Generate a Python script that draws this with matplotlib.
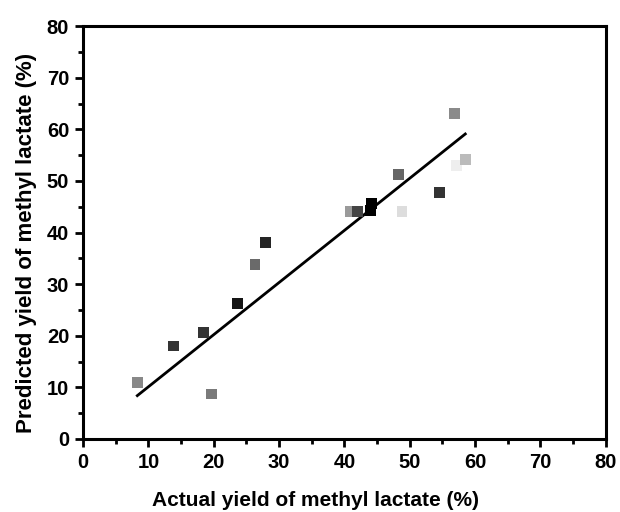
import matplotlib
matplotlib.use("Agg")
import matplotlib.pyplot as plt
from matplotlib.ticker import MultipleLocator

# data
actual = [8.3, 13.8, 18.4, 19.7, 23.6, 26.3, 27.9, 40.9, 42.0, 44.0, 44.1,
          48.3, 48.8, 54.5, 56.8, 57.2, 58.5]
predicted = [11.0, 18.0, 20.6, 8.7, 26.3, 33.8, 38.0, 44.1, 44.1, 44.2, 45.7,
             51.3, 44.1, 47.8, 63.1, 53.0, 54.1]
shades = ["#888888", "#333333", "#333333", "#7a7a7a", "#151515", "#6a6a6a",
          "#252525", "#9a9a9a", "#444444", "#000000", "#000000",
          "#666666", "#dddddd", "#333333", "#8a8a8a", "#eeeeee", "#bbbbbb"]
fit_x = [8.3, 58.5]
fit_y = [8.4, 59.1]

plt.rcParams["font.family"] = ["Liberation Sans", "DejaVu Sans"]
plt.rcParams["font.weight"] = "bold"

fig = plt.figure(figsize=(6.2, 5.12), dpi=100)
ax = fig.add_axes([0.134, 0.1426, 0.843, 0.8064])

ax.scatter(actual, predicted, marker="s", s=60, c=shades, linewidths=0, zorder=3)
ax.plot(fit_x, fit_y, color="black", linewidth=2.0, zorder=2)

ax.set_xlim(0, 80)
ax.set_ylim(0, 80)
ax.xaxis.set_major_locator(MultipleLocator(10))
ax.yaxis.set_major_locator(MultipleLocator(10))
ax.xaxis.set_minor_locator(MultipleLocator(5))
ax.yaxis.set_minor_locator(MultipleLocator(5))
ax.tick_params(which="major", direction="out", length=6, width=2, labelsize=14.5, pad=4)
ax.tick_params(which="minor", direction="out", length=3.5, width=2)
for sp in ax.spines.values():
    sp.set_linewidth(2.2)

ax.set_xlabel("Actual yield of methyl lactate (%)", fontsize=15, fontweight="bold", labelpad=14)
ax.set_ylabel("Predicted yield of methyl lactate (%)", fontsize=16, fontweight="bold", labelpad=7)
# labels sit a little off-centre in the original
ax.xaxis.label.set_x(0.444)
ax.yaxis.label.set_y(0.475)

fig.savefig("out.png", dpi=100)
